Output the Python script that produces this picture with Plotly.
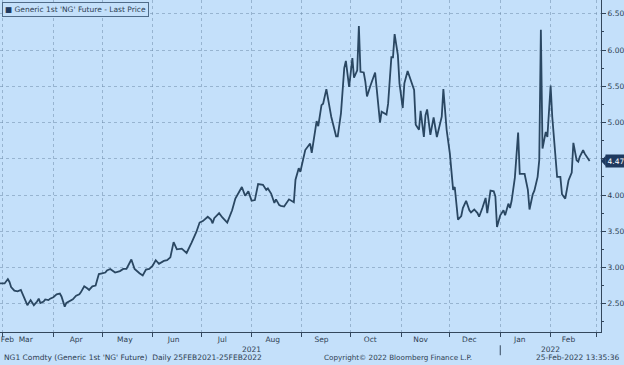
import plotly.graph_objects as go

dates = [
 "2021-02-25","2021-02-26","2021-03-02","2021-03-04","2021-03-05","2021-03-06","2021-03-08","2021-03-10","2021-03-12","2021-03-13",
 "2021-03-15","2021-03-16","2021-03-18","2021-03-19","2021-03-20","2021-03-22","2021-03-23","2021-03-24","2021-03-26","2021-03-27",
 "2021-03-29","2021-03-30","2021-04-01","2021-04-03","2021-04-05","2021-04-06","2021-04-07","2021-04-08","2021-04-09","2021-04-11",
 "2021-04-13","2021-04-15","2021-04-17","2021-04-18","2021-04-20","2021-04-22","2021-04-23","2021-04-25","2021-04-27","2021-04-28",
 "2021-04-29","2021-05-01","2021-05-03","2021-05-04","2021-05-06","2021-05-09","2021-05-12","2021-05-14","2021-05-16","2021-05-19",
 "2021-05-21","2021-05-24","2021-05-26","2021-05-28","2021-05-30","2021-06-01","2021-06-03","2021-06-05","2021-06-08","2021-06-10",
 "2021-06-12","2021-06-14","2021-06-16","2021-06-19","2021-06-22","2021-06-25","2021-06-28","2021-06-30","2021-07-02","2021-07-05",
 "2021-07-07","2021-07-08","2021-07-09","2021-07-12","2021-07-14","2021-07-17","2021-07-20","2021-07-22","2021-07-23","2021-07-26",
 "2021-07-28","2021-07-30","2021-08-01","2021-08-03","2021-08-05","2021-08-08","2021-08-10","2021-08-11","2021-08-13","2021-08-15",
 "2021-08-16","2021-08-18","2021-08-19","2021-08-21","2021-08-24","2021-08-27","2021-08-28","2021-08-30","2021-08-31","2021-09-03",
 "2021-09-06","2021-09-07","2021-09-10","2021-09-11","2021-09-13","2021-09-14","2021-09-16","2021-09-17","2021-09-19","2021-09-22",
 "2021-09-23","2021-09-25","2021-09-27","2021-09-28","2021-09-30","2021-10-02","2021-10-03","2021-10-05","2021-10-06","2021-10-07",
 "2021-10-09","2021-10-10","2021-10-11","2021-10-13","2021-10-16","2021-10-17","2021-10-19","2021-10-20","2021-10-23","2021-10-24",
 "2021-10-26","2021-10-27","2021-10-28","2021-10-30","2021-10-31","2021-11-02","2021-11-03","2021-11-05","2021-11-07","2021-11-09",
 "2021-11-10","2021-11-12","2021-11-13","2021-11-15","2021-11-16","2021-11-17","2021-11-19","2021-11-21","2021-11-23","2021-11-25",
 "2021-11-26","2021-11-27","2021-11-29","2021-12-01","2021-12-03","2021-12-04","2021-12-06","2021-12-08","2021-12-09","2021-12-11",
 "2021-12-13","2021-12-14","2021-12-16","2021-12-18","2021-12-19","2021-12-21","2021-12-23","2021-12-24","2021-12-26","2021-12-28",
 "2021-12-29","2021-12-30","2022-01-01","2022-01-03","2022-01-04","2022-01-06","2022-01-07","2022-01-08","2022-01-10","2022-01-12",
 "2022-01-13","2022-01-16","2022-01-18","2022-01-19","2022-01-21","2022-01-22","2022-01-24","2022-01-25","2022-01-26","2022-01-27",
 "2022-01-29","2022-01-30","2022-02-01","2022-02-02","2022-02-04","2022-02-05","2022-02-07","2022-02-08","2022-02-10","2022-02-12",
 "2022-02-14","2022-02-15","2022-02-17","2022-02-18","2022-02-19","2022-02-21","2022-02-22","2022-02-24","2022-02-25",
]
prices = [
 2.77,2.78,2.78,2.84,2.80,2.73,2.68,2.67,2.69,2.64,
 2.55,2.48,2.55,2.51,2.48,2.53,2.57,2.51,2.53,2.56,
 2.55,2.57,2.59,2.63,2.64,2.60,2.51,2.46,2.51,2.53,
 2.56,2.61,2.63,2.66,2.74,2.71,2.69,2.74,2.75,2.83,
 2.91,2.92,2.93,2.96,2.98,2.93,2.95,2.98,2.98,3.11,
 2.98,2.92,2.89,2.97,2.98,3.02,3.10,3.05,3.09,3.10,
 3.14,3.35,3.25,3.26,3.20,3.34,3.49,3.62,3.64,3.70,
 3.66,3.61,3.68,3.75,3.69,3.62,3.79,3.95,3.99,4.11,
 3.99,4.05,3.92,3.93,4.15,4.14,4.07,4.09,4.02,3.89,
 3.94,3.86,3.85,3.84,3.94,3.90,4.21,4.37,4.32,4.62,
 4.71,4.58,5.02,4.95,5.24,5.26,5.46,5.33,5.08,4.81,
 4.81,5.13,5.75,5.85,5.49,5.89,5.62,5.72,6.33,5.70,
 5.69,5.56,5.36,5.50,5.69,5.46,5.00,5.15,5.11,5.26,
 5.90,5.90,6.22,5.93,5.54,5.20,5.54,5.71,5.58,5.45,
 4.97,4.90,5.16,4.80,5.10,5.18,4.83,5.07,4.80,4.99,
 5.08,5.46,4.90,4.57,4.07,4.11,3.66,3.71,3.82,3.92,
 3.79,3.76,3.80,3.75,3.70,3.82,3.96,3.75,4.06,4.05,
 3.98,3.56,3.72,3.79,3.72,3.88,3.82,3.92,4.24,4.86,
 4.29,4.29,4.07,3.80,4.01,4.06,4.25,4.48,6.28,4.64,
 4.87,4.80,5.51,5.08,4.60,4.25,4.25,4.01,3.95,4.20,
 4.31,4.72,4.48,4.46,4.53,4.62,4.57,4.50,4.47,
]

month_labels = ["Feb","Mar","Apr","May","Jun","Jul","Aug","Sep","Oct","Nov","Dec","Jan","Feb"]
month_label_dates = ["2021-03-03 18:00","2021-03-15","2021-04-15","2021-05-15","2021-06-14","2021-07-14",
                     "2021-08-14","2021-09-13","2021-10-13","2021-11-13","2021-12-13","2022-01-13","2022-02-12"]
year_labels = ["2021","2022"]
year_label_dates = ["2021-08-01","2022-02-01"]
y_tick_vals = [2.5, 3.0, 3.5, 4.0, 4.5, 5.0, 5.5, 6.0, 6.5]
y_tick_text = ["2.50", "3.00", "3.50", "4.00", "", "5.00", "5.50", "6.00", "6.50"]
last_price = 4.47

BG = "#C4E0FA"
LINE = "#2A4762"
TXT = "#2E3E52"
GRID = "rgba(105,135,165,0.5)"
FONT = "DejaVu Sans"

fig = go.Figure()
fig.add_trace(go.Scatter(x=dates, y=prices, mode="lines",
                         line=dict(color=LINE, width=1.8), showlegend=False,
                         hoverinfo="x+y"))

fig.update_layout(
    width=624, height=365,
    margin=dict(l=0, r=23, t=0, b=33, autoexpand=False),
    paper_bgcolor=BG, plot_bgcolor=BG,
    font=dict(family=FONT, size=8, color=TXT),
    xaxis=dict(
        type="date",
        range=["2021-02-27 04:00", "2022-03-04"],
        tickvals=month_label_dates, ticktext=month_labels,
        ticks="", showgrid=False, ticklabeloverflow="allow",
        tickfont=dict(size=7.5, color=TXT),
        showline=True, linecolor="#33475C", linewidth=1,
        minor=dict(dtick="M1", tick0="2021-03-01", ticks="outside", ticklen=4,
                   tickcolor="#33475C", showgrid=True, gridcolor=GRID,
                   griddash="dot", gridwidth=1),
        zeroline=False, fixedrange=True, automargin=False,
    ),
    yaxis=dict(
        side="right",
        range=[2.110, 6.690],
        tickvals=y_tick_vals, ticktext=y_tick_text,
        ticks="outside", ticklen=4, tickcolor="#33475C",
        tickfont=dict(size=7.5, color=TXT),
        showgrid=True, gridcolor=GRID, griddash="dot", gridwidth=1,
        showline=True, linecolor="#33475C", linewidth=1,
        minor=dict(dtick=0.25, tick0=2.25, ticks="outside", ticklen=2,
                   tickcolor="#33475C", showgrid=False),
        zeroline=False, fixedrange=True, automargin=False,
    ),
)

annotations = []
for lab, d in zip(year_labels, year_label_dates):
    annotations.append(dict(x=d, xref="x", y=-0.054, yref="paper", text=lab,
                            showarrow=False, xanchor="center", yanchor="middle",
                            font=dict(size=7.5, color=TXT)))
annotations += [
    dict(x=0.004, y=0.993, xref="paper", yref="paper", xanchor="left", yanchor="top",
         text="<span style='color:#1F3A5F'>■</span> Generic 1st 'NG' Future - Last Price",
         showarrow=False, font=dict(size=7.5, color=TXT),
         bordercolor="#4F6B88", borderwidth=1, borderpad=2, bgcolor=BG),
    dict(x=1, xref="paper", y=last_price, yref="y", xanchor="left", yanchor="middle",
         xshift=4, text=f"{last_price:.2f}", showarrow=False,
         font=dict(size=7.5, color="white"), bgcolor="#1F3A5F", borderpad=1.5),
    dict(x=0.004, y=-0.078, xref="paper", yref="paper", xanchor="left", yanchor="middle",
         text="NG1 Comdty (Generic 1st 'NG' Future)  Daily 25FEB2021-25FEB2022",
         showarrow=False, font=dict(size=7.5, color=TXT)),
    dict(x=322/601, y=-0.078, xref="paper", yref="paper", xanchor="left", yanchor="middle",
         text="Copyright© 2022 Bloomberg Finance L.P.",
         showarrow=False, font=dict(size=7.2, color=TXT)),
    dict(x=622/601, y=-0.078, xref="paper", yref="paper", xanchor="right", yanchor="middle",
         text="25-Feb-2022 13:35:36",
         showarrow=False, font=dict(size=7.5, color=TXT)),
]
fig.update_layout(annotations=annotations)

# small pointer on the last-price tag
fig.add_shape(type="path", xref="paper", yref="y",
              path=f"M 1.0 {last_price} L 1.008 {last_price + 0.075} L 1.008 {last_price - 0.075} Z",
              fillcolor="#1F3A5F", line=dict(width=0))

fig.add_shape(type="line", xref="x", yref="paper", x0="2022-01-01", x1="2022-01-01",
              y0=-0.04, y1=-0.07, line=dict(color="#33475C", width=1))

fig.write_html("out.html", config={"displayModeBar": False},
               post_script="document.body.style.margin='0';document.body.style.background='" + BG + "';")
